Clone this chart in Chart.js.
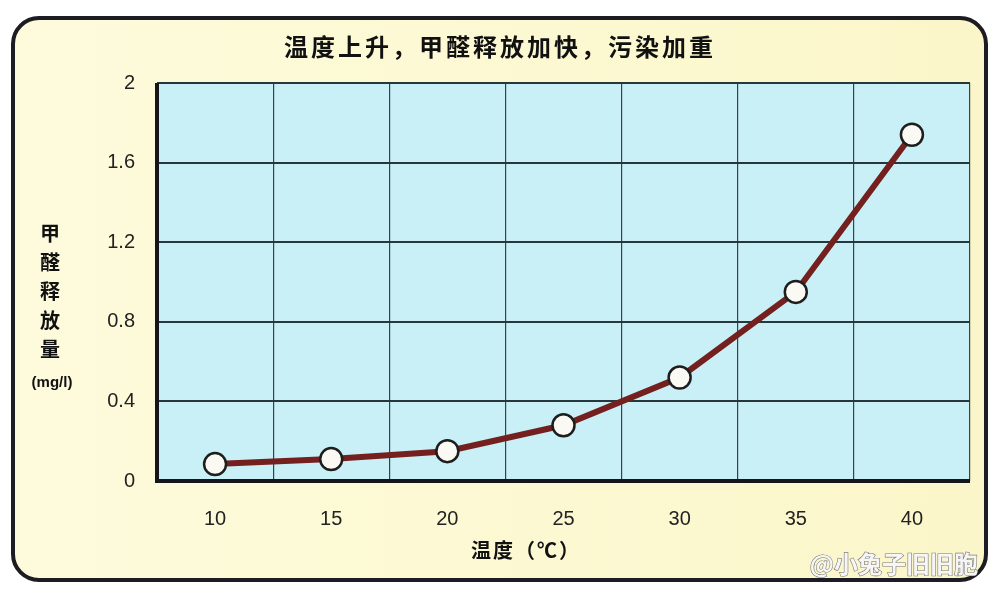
<!DOCTYPE html>
<html>
<head>
<meta charset="utf-8">
<script src="https://cdn.jsdelivr.net/npm/chart.js@4/dist/chart.umd.min.js"></script>
<style>
	html, body {margin: 0; padding: 0; background: #fff;}
	#wrap {width: 1000px; height: 600px;}
</style>
</head>
<body>
<div id="wrap"><canvas id="chart" width="1000" height="600"></canvas></div>
<script>
// Formaldehyde release vs temperature
const temps = ['10', '15', '20', '25', '30', '35', '40'];
const release = [0.085, 0.11, 0.15, 0.28, 0.52, 0.95, 1.74];
const yTicks = [0, 0.4, 0.8, 1.2, 1.6, 2];
const titleText = '温度上升，甲醛释放加快，污染加重';
const yTitleLines = ['甲', '醛', '释', '放', '量'];
const yUnit = '(mg/l)';
const xTitleText = '温度（℃）';
const watermark = '@小兔子旧旧胞';

const cjk = '"Noto Sans CJK SC", "Noto Sans", sans-serif';
const latin = '"Liberation Sans", Arial, sans-serif';

// panel, plot background, title and the hand placed axis titles
const decor = {
	id: 'decor',
	beforeDraw(chart) {
		const ctx = chart.ctx, a = chart.chartArea;
		ctx.save();
		ctx.fillStyle = '#ffffff';
		ctx.fillRect(0, 0, chart.width, chart.height);
		const g = ctx.createLinearGradient(13, 0, 986, 0);
		g.addColorStop(0, '#fdfbdc');
		g.addColorStop(1, '#fbf6c9');
		ctx.beginPath();
		ctx.roundRect(13, 18, 973, 562, 26);
		ctx.fillStyle = g;
		ctx.fill();
		ctx.lineWidth = 4;
		ctx.strokeStyle = '#1c1c22';
		ctx.stroke();
		ctx.fillStyle = '#c9eff7';
		ctx.fillRect(a.left, a.top, a.right - a.left, a.bottom - a.top);
		ctx.restore();
	},
	afterDraw(chart) {
		const ctx = chart.ctx, a = chart.chartArea;
		ctx.save();
		// heavy left and bottom axis lines
		ctx.strokeStyle = '#15151c';
		ctx.lineWidth = 4;
		ctx.beginPath();
		ctx.moveTo(a.left, a.top);
		ctx.lineTo(a.left, a.bottom);
		ctx.lineTo(a.right, a.bottom);
		ctx.stroke();
		ctx.fillStyle = '#111';
		ctx.textAlign = 'center';
		ctx.textBaseline = 'middle';
		ctx.font = 'bold 24px ' + cjk;
		ctx.letterSpacing = '3px';
		ctx.fillText(titleText, 500, 47);
		ctx.letterSpacing = '0px';
		ctx.font = 'bold 20px ' + cjk;
		yTitleLines.forEach((c, i) => ctx.fillText(c, 50, 233 + i * 29));
		ctx.font = 'bold 15px ' + latin;
		ctx.fillText(yUnit, 52, 383);
		ctx.font = 'bold 20px ' + cjk;
		ctx.letterSpacing = '2px';
		ctx.fillText(xTitleText, 526, 550);
		ctx.letterSpacing = '0px';
		ctx.font = 'bold 24px ' + cjk;
		ctx.lineWidth = 1.2;
		ctx.strokeStyle = '#777';
		ctx.fillStyle = '#f6f6f6';
		ctx.textAlign = 'right';
		ctx.strokeText(watermark, 978, 564);
		ctx.fillText(watermark, 978, 564);
		ctx.restore();
	}
};

new Chart(
	document.getElementById('chart'),
	{
		type: 'line',
		data: {
			labels: temps,
			datasets: [{
				data: release,
				borderColor: '#74201f',
				borderWidth: 6,
				tension: 0,
				pointRadius: 11,
				pointBackgroundColor: '#fbf9f3',
				pointBorderColor: '#1e1e1e',
				pointBorderWidth: 2.5
			}]
		},
		options: {
			responsive: false,
			animation: false,
			layout: {padding: {left: 0, right: 30, top: 83, bottom: 0}},
			scales: {
				x: {
					type: 'category',
					offset: true,
					grid: {offset: true, color: '#3a4246', lineWidth: 1.2, drawTicks: false},
					border: {display: false},
					ticks: {padding: 26, color: '#222', font: {family: latin, size: 20}},
					afterFit: (s) => { s.height = 119; }
				},
				y: {
					min: 0,
					max: 2,
					afterBuildTicks: (s) => { s.ticks = yTicks.map((v) => ({value: v})); },
					grid: {color: '#26383c', lineWidth: 2, drawTicks: false},
					border: {display: false},
					ticks: {
						padding: 22,
						color: '#222',
						font: {family: latin, size: 20},
						callback: (v) => String(v)
					},
					afterFit: (s) => { s.width = 157; }
				}
			},
			plugins: {
				legend: {display: false},
				tooltip: {enabled: false},
				title: {display: false}
			}
		},
		plugins: [decor]
	}
);
</script>
</body>
</html>
